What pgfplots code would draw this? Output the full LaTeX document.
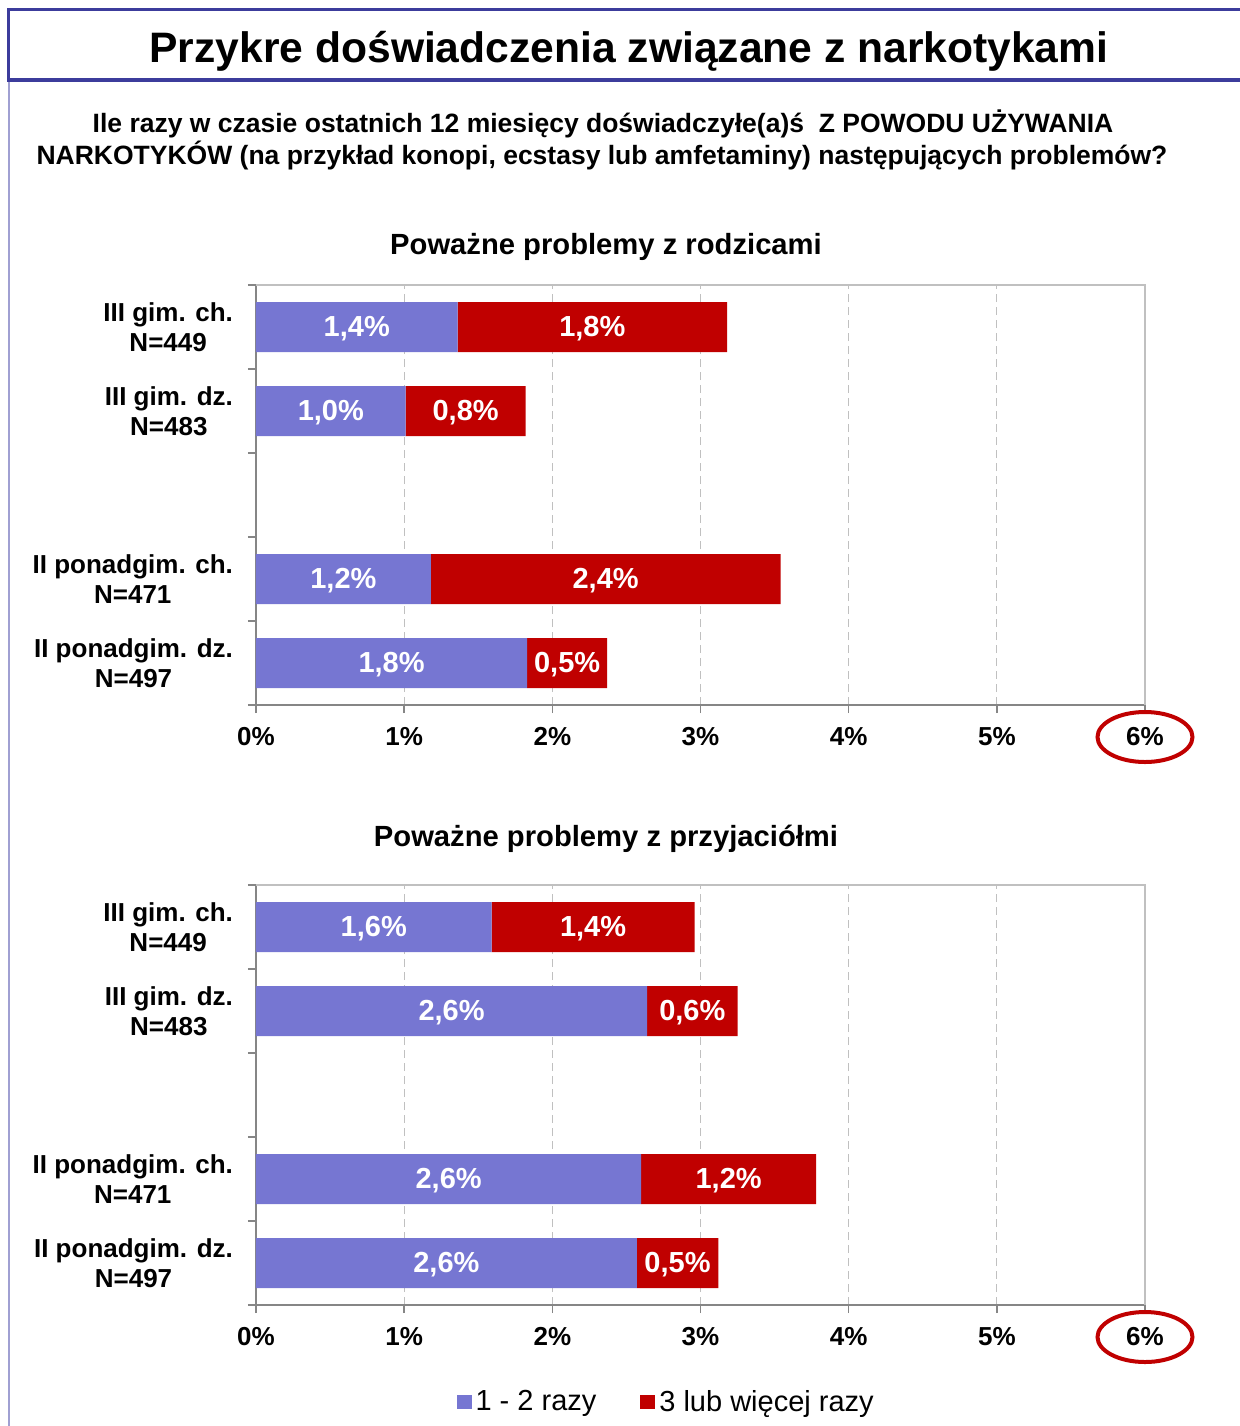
\documentclass[border=0pt]{standalone}
\usepackage{pgfplots}
\pgfplotsset{compat=1.18}
\usepackage{pgfplotstable}
\usepackage{fontspec}
\setmainfont{Liberation Sans}
\definecolor{barblue}{RGB}{118,118,210}
\definecolor{barred}{RGB}{192,0,0}
\definecolor{frameblue}{RGB}{60,60,156}
\definecolor{linepurple}{RGB}{160,160,210}
\definecolor{axgray}{RGB}{134,134,134}
\definecolor{boxgray}{RGB}{192,192,192}

% c: category position (4 = top), v: value in %, lbl: printed label
\pgfplotstableread{
c v lbl
4 1.36 1,4
3 1.01 1,0
1 1.18 1,2
0 1.83 1,8
}\rodzA
\pgfplotstableread{
c v lbl
4 1.82 1,8
3 0.81 0,8
1 2.36 2,4
0 0.54 0,5
}\rodzB
\pgfplotstableread{
c v lbl
4 1.59 1,6
3 2.64 2,6
1 2.60 2,6
0 2.57 2,6
}\przyA
\pgfplotstableread{
c v lbl
4 1.37 1,4
3 0.61 0,6
1 1.18 1,2
0 0.55 0,5
}\przyB

\pgfplotsset{
 chartstyle/.style={
  scale only axis, width=444.5pt, height=210pt,
  anchor=south west,
  xbar stacked, bar width=25pt,
  xmin=0, xmax=6, ymin=-0.5, ymax=4.5,
  axis x line*=bottom, axis y line*=left,
  axis line style={axgray, line width=0.8pt},
  xtick={0,...,6}, xticklabels={0\%,1\%,2\%,3\%,4\%,5\%,6\%},
  xticklabel style={font=\bfseries\fontsize{13}{15}\selectfont, yshift=-3.5pt},
  xmajorgrids, grid style={boxgray, dash pattern=on 4pt off 2.5pt, line width=0.6pt},
  tick align=outside, major tick length=4pt, minor tick length=4pt,
  tick style={axgray, line width=0.8pt},
  ytick={0,1,3,4},
  yticklabels={{II ponadgim. dz.\\N=497},{II ponadgim. ch.\\N=471},{III gim. dz.\\N=483},{III gim. ch.\\N=449}},
  major y tick style={draw=none},
  minor ytick={-0.5,0.5,1.5,2.5,3.5,4.5},
  yticklabel style={align=center, font=\bfseries\fontsize{13}{15}\selectfont, xshift=-4pt},
  point meta=explicit symbolic,
  nodes near coords={\pgfplotspointmeta\%},
  nodes near coords style={text=white, font=\bfseries\fontsize{14.5}{16}\selectfont, anchor=center, yshift=-1pt},
  clip=false,
 }
}

\begin{document}
\begin{tikzpicture}
\useasboundingbox (0,0) rectangle (619.5pt,-713pt);
% frame
\draw[linepurple, line width=1pt] (4.25pt,-40pt) -- (4.25pt,-720pt);
\draw[frameblue, line width=1.6pt] (640pt,-4.75pt) -- (4.25pt,-4.75pt) -- (4.25pt,-40pt) -- (640pt,-40pt);
\node[anchor=base, font=\bfseries\fontsize{21.3}{24}\selectfont, inner sep=0pt] at (314.5pt,-31pt) {Przykre doświadczenia związane z narkotykami};
\node[anchor=base, font=\bfseries\fontsize{13.25}{15}\selectfont, inner sep=0pt] at (301.5pt,-66pt) {Ile razy w czasie ostatnich 12 miesięcy doświadczyłe(a)ś\ \ Z POWODU UŻYWANIA};
\node[anchor=base, font=\bfseries\fontsize{13.25}{15}\selectfont, inner sep=0pt] at (301pt,-82pt) {NARKOTYKÓW (na przykład konopi, ecstasy lub amfetaminy) następujących problemów?};
\node[anchor=base, font=\bfseries\fontsize{14.6}{17}\selectfont, inner sep=0pt] at (303pt,-127pt) {Poważne problemy z rodzicami};
\node[anchor=base, font=\bfseries\fontsize{14.6}{17}\selectfont, inner sep=0pt] at (303pt,-423pt) {Poważne problemy z przyjaciółmi};

\begin{axis}[chartstyle, at={(128pt,-352.5pt)}]
\addplot[fill=barblue, draw=none] table[x=v, y=c, meta=lbl] {\rodzA};
\addplot[fill=barred, draw=none] table[x=v, y=c, meta=lbl] {\rodzB};
\draw[boxgray, line width=0.8pt] (rel axis cs:0,1) -- (rel axis cs:1,1) -- (rel axis cs:1,0);
\draw[barred, line width=2pt] (rel axis cs:1,0) ++(0pt,-16pt) ellipse[x radius=23.75pt, y radius=12.5pt];
\end{axis}

\begin{axis}[chartstyle, at={(128pt,-652.5pt)},
  legend style={at={(0.4625,-0.231)}, anchor=center, draw=none, legend columns=2,
    font=\fontsize{14.5}{16}\selectfont,
    /tikz/every even column/.append style={column sep=20pt}},
  legend image code/.code={\fill[#1] (0pt,-3.7pt) rectangle (7.5pt,3.7pt);}]
\addplot[fill=barblue, draw=none] table[x=v, y=c, meta=lbl] {\przyA};
\addplot[fill=barred, draw=none] table[x=v, y=c, meta=lbl] {\przyB};
\draw[boxgray, line width=0.8pt] (rel axis cs:0,1) -- (rel axis cs:1,1) -- (rel axis cs:1,0);
\draw[barred, line width=2pt] (rel axis cs:1,0) ++(0pt,-16pt) ellipse[x radius=23.75pt, y radius=12.5pt];
\legend{1 - 2 razy, 3 lub więcej razy}
\end{axis}
\end{tikzpicture}
\end{document}
